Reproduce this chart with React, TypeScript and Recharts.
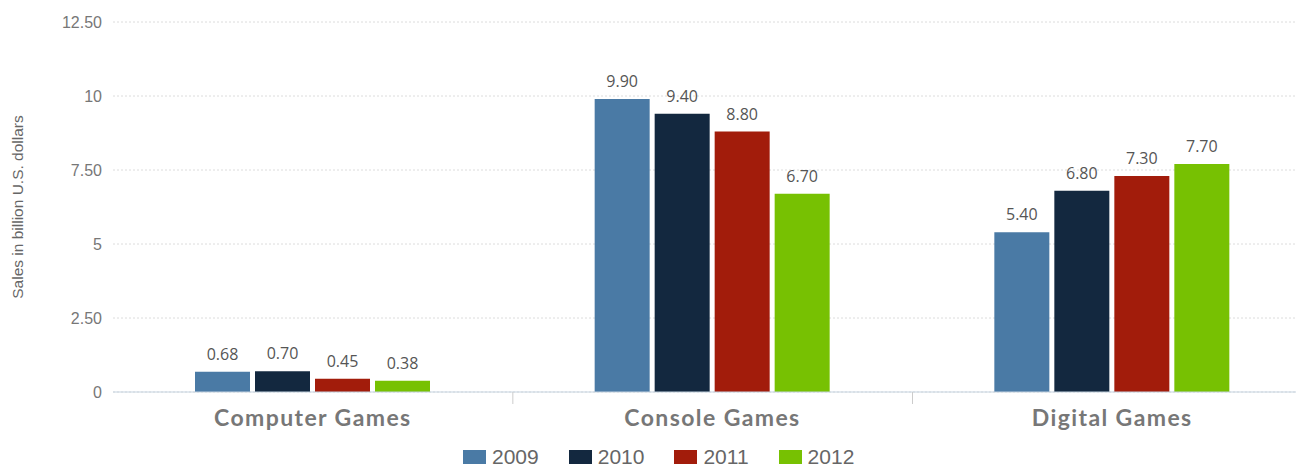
import React from 'react';
import { BarChart, Bar, XAxis, YAxis, CartesianGrid, Legend, LabelList } from 'recharts';

const categories = ['Computer Games', 'Console Games', 'Digital Games'];
const sales2009 = [0.68, 9.9, 5.4];
const sales2010 = [0.7, 9.4, 6.8];
const sales2011 = [0.45, 8.8, 7.3];
const sales2012 = [0.38, 6.7, 7.7];
const years = ['2009', '2010', '2011', '2012'];
const colors = ['#4a7aa5', '#13283f', '#a21c0b', '#77c102'];
const yTicks = [0, 2.5, 5, 7.5, 10, 12.5];

const data = categories.map((c, i) => ({
  name: c,
  '2009': sales2009[i],
  '2010': sales2010[i],
  '2011': sales2011[i],
  '2012': sales2012[i],
}));

const fmtY = (v: number) => (Number.isInteger(v) ? String(v) : v.toFixed(2));
const fmtVal = (v: any) => Number(v).toFixed(2);

const XTick = (props: any) => {
  const { x, y, payload, index } = props;
  return (
    <g>
      <text
        x={x}
        y={y + 34}
        textAnchor="middle"
        fontFamily="Lato, 'Open Sans', sans-serif"
        fontWeight={700}
        fontSize={23}
        letterSpacing={1.4}
        fill="#777"
      >
        {payload.value}
      </text>
      {index < categories.length - 1 && (
        <line x1={x + 200} x2={x + 200} y1={y} y2={y + 12} stroke="#ccc" strokeWidth={1} />
      )}
    </g>
  );
};

const LegendContent = () => (
  <div style={{ display: 'flex', alignItems: 'center', height: 22 }}>
    {years.map((yr, i) => (
      <div key={yr} style={{ display: 'flex', alignItems: 'center', marginRight: 30 }}>
        <div style={{ width: 23, height: 14, background: colors[i], marginRight: 6 }} />
        <span style={{ fontFamily: "'Liberation Sans', Arial, sans-serif", fontSize: 21, color: '#666', lineHeight: '22px' }}>
          {yr}
        </span>
      </div>
    ))}
  </div>
);

export default function App() {
  return (
    <div style={{ width: 1296, height: 460, overflow: 'hidden' }}>
      <BarChart
        width={1304}
        height={460}
        data={data}
        margin={{ top: 14, right: 0, left: 0, bottom: 0 }}
        barSize={55}
        barGap={5}
      >
        <CartesianGrid vertical={false} stroke="#dcdcdc" strokeDasharray="2 2" />
        <XAxis
          dataKey="name"
          height={54}
          tickSize={0}
          tickMargin={0}
          tickLine={false}
          axisLine={{ stroke: '#c5d3e0' }}
          tick={<XTick />}
          interval={0}
        />
        <YAxis
          width={105}
          domain={[0, 12.5]}
          ticks={yTicks}
          tickFormatter={fmtY}
          axisLine={false}
          tickLine={false}
          tickSize={0}
          tickMargin={11}
          tick={{ fontFamily: "'Liberation Sans', Arial, sans-serif", fontSize: 16, fill: '#777' }}
          label={{
            value: 'Sales in billion U.S. dollars',
            angle: -90,
            position: 'insideLeft',
            offset: 9,
            style: { textAnchor: 'middle', fontFamily: "'Liberation Sans', Arial, sans-serif", fontSize: 15.5, fill: '#666' },
          }}
        />
        <Legend
          verticalAlign="bottom"
          align="left"
          height={22}
          content={<LegendContent />}
          wrapperStyle={{ left: 455, width: 'auto' }}
        />
        {years.map((yr, i) => (
          <Bar key={yr} dataKey={yr} fill={colors[i]} isAnimationActive={false}>
            <LabelList
              dataKey={yr}
              position="top"
              offset={12}
              formatter={fmtVal}
              style={{ fontFamily: "'Open Sans', sans-serif", fontSize: 16, fill: '#555' }}
            />
          </Bar>
        ))}
      </BarChart>
    </div>
  );
}
